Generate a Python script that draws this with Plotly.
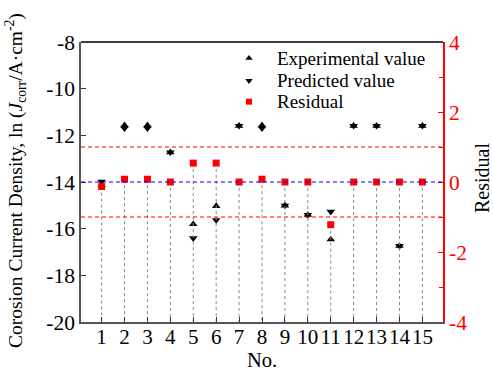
import plotly.graph_objects as go

no = list(range(1, 16))
experimental = [-14.13, -11.57, -11.57, -12.73, -15.81, -15.03, -11.59, -11.57,
                -15.01, -15.41, -16.46, -11.59, -11.59, -16.74, -11.59]
predicted = [-13.98, -11.70, -11.70, -12.73, -16.41, -15.63, -11.59, -11.70,
             -15.01, -15.41, -15.27, -11.59, -11.59, -16.74, -11.59]
residual = [-0.13, 0.08, 0.08, 0.0, 0.54, 0.54, 0.0, 0.08,
            0.0, 0.0, -1.22, 0.0, 0.0, 0.0, 0.0]
left_ticks = [-20, -18, -16, -14, -12, -10, -8]
left_labels = ["-20", "-18", "-16", "-14", "-12", "-10", "-8"]
right_ticks = [-4, -2, 0, 2, 4]
right_labels = ["-4", "-2", "0", "2", "4"]
ref_lines = [(-1, "red"), (0, "blue"), (1, "red")]
legend_names = ["Experimental value", "Predicted value", "Residual"]
legend_symbols = ["triangle-up", "triangle-down", "square"]
legend_colors = ["black", "black", "red"]
legend_sizes = [6.5, 6.5, 6]

FONT = "Liberation Serif"
fig = go.Figure()

# drop lines from residual points down to the bottom
dx, dy = [], []
for n, r in zip(no, residual):
    dx += [n, n, None]
    dy += [r, -4, None]
fig.add_trace(go.Scatter(x=dx, y=dy, yaxis="y2", mode="lines",
                         line=dict(color="#8a8a8a", width=1, dash="dot"),
                         showlegend=False, hoverinfo="skip"))

for val, col in ref_lines:
    fig.add_shape(type="line", xref="paper", x0=0, x1=1, yref="y2", y0=val, y1=val,
                  line=dict(color=col, width=1.2, dash="4px,3px"))

fig.add_trace(go.Scatter(x=no, y=experimental, mode="markers", showlegend=False,
                         marker=dict(symbol="triangle-up", size=7.5, color="black")))
fig.add_trace(go.Scatter(x=no, y=predicted, mode="markers", showlegend=False,
                         marker=dict(symbol="triangle-down", size=7.5, color="black")))
fig.add_trace(go.Scatter(x=no, y=residual, yaxis="y2", mode="markers", showlegend=False,
                         marker=dict(symbol="square", size=7, color="red")))

# legend drawn on a hidden overlay axis (paper-like 0..1 coordinates)
leg_y = [0.942, 0.862, 0.787]
for name, sym, col, sz, yy in zip(legend_names, legend_symbols, legend_colors, legend_sizes, leg_y):
    fig.add_trace(go.Scatter(x=[0.464], y=[yy], xaxis="x2", yaxis="y3", mode="markers",
                             marker=dict(symbol=sym, size=sz, color=col),
                             showlegend=False, hoverinfo="skip"))
    fig.add_annotation(text=name, xref="paper", yref="paper", x=0.536, y=yy,
                       xanchor="left", yanchor="middle", showarrow=False,
                       font=dict(family=FONT, size=19, color="black"))

# axis titles
fig.add_annotation(text="Corosion Current Density, ln (<i>J</i><sub>corr</sub>/A·cm<sup>-2</sup>)",
                   xref="paper", yref="paper", x=(15 - 81) / 362, y=(322 - 181) / 280,
                   xanchor="center", yanchor="middle", textangle=-90, showarrow=False,
                   font=dict(family=FONT, size=19.5, color="black"))
fig.add_annotation(text="Residual", xref="paper", yref="paper",
                   x=(482 - 81) / 362, y=(322 - 178) / 280,
                   xanchor="center", yanchor="middle", textangle=-90, showarrow=False,
                   font=dict(family=FONT, size=20, color="black"))
fig.add_annotation(text="No.", xref="paper", yref="paper",
                   x=0.5, y=(322 - 360) / 280,
                   xanchor="center", yanchor="middle", showarrow=False,
                   font=dict(family=FONT, size=20.5, color="black"))

# top frame line
fig.add_shape(type="line", xref="paper", yref="paper", x0=0, x1=1, y0=1, y1=1,
              line=dict(color="black", width=1.5))

fig.update_layout(
    width=493, height=372,
    margin=dict(l=81, r=50, t=42, b=50, autoexpand=False),
    paper_bgcolor="white", plot_bgcolor="white",
    font=dict(family=FONT, size=20, color="black"),
    showlegend=False,
    xaxis=dict(range=[0.1, 15.9], tickmode="array", tickvals=no,
               ticktext=[str(n) for n in no], tickangle=0, automargin=False,
               showline=True, linecolor="#555", linewidth=1.5,
               ticks="inside", ticklen=5, tickcolor="#333", showgrid=False, zeroline=False,
               ticklabelstandoff=-5,
               tickfont=dict(family=FONT, size=21)),
    xaxis2=dict(range=[0, 1], overlaying="x", visible=False),
    yaxis=dict(range=[-20, -8], tickmode="array", tickvals=left_ticks, ticktext=left_labels,
               showline=True, linecolor="#555", linewidth=1.5, automargin=False,
               ticks="inside", ticklen=5, tickcolor="#333", showgrid=False, zeroline=False,
               tickfont=dict(family=FONT, size=21.5)),
    yaxis2=dict(range=[-4, 4], tickmode="array", tickvals=right_ticks, ticktext=right_labels,
                overlaying="y", side="right", automargin=False,
                showline=True, linecolor="red", linewidth=1.5,
                ticks="inside", ticklen=5, tickcolor="red",
                minor=dict(dtick=1, ticks="inside", ticklen=4, tickcolor="red"),
                showgrid=False, zeroline=False,
                tickfont=dict(family=FONT, size=21.5, color="red")),
    yaxis3=dict(range=[0, 1], overlaying="y", visible=False),
)

fig.write_html("out.html")
